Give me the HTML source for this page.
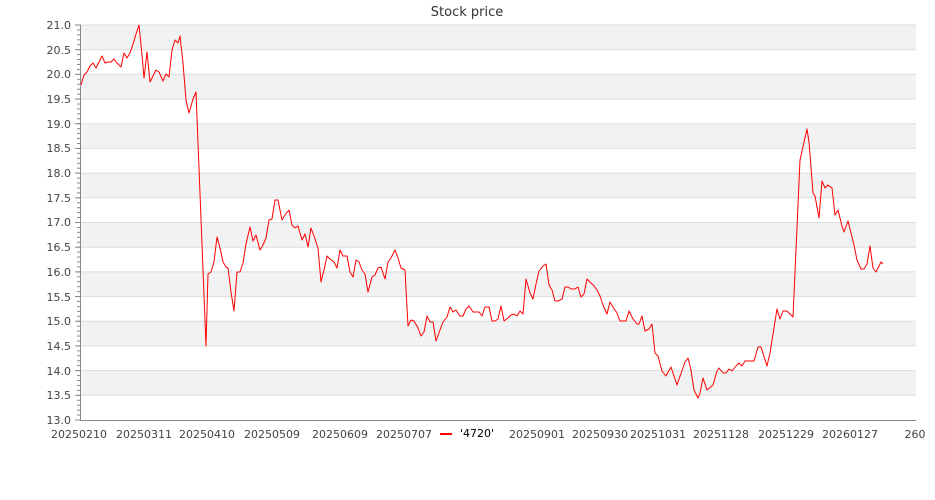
<!DOCTYPE html>
<html><head><meta charset="utf-8"><style>
body{margin:0;background:#fff;}
svg{display:block;font-family:"DejaVu Sans","Liberation Sans",sans-serif;}
</style></head><body>
<svg width="935" height="500" xmlns="http://www.w3.org/2000/svg">
<defs>
<pattern id="minor" patternUnits="userSpaceOnUse" x="0" y="24.5" width="10" height="4.9375"><rect x="0" y="0" width="10" height="1" fill="#888"/></pattern>
<pattern id="major" patternUnits="userSpaceOnUse" x="0" y="24.5" width="10" height="24.6875"><rect x="0" y="0" width="10" height="1" fill="#888"/></pattern>
</defs>
<text x="467" y="16" text-anchor="middle" font-size="13" fill="#333">Stock price</text>
<g fill="#f2f2f2">
<rect x="81" y="25" width="835" height="24.7"/>
<rect x="81" y="74.4" width="835" height="24.7"/>
<rect x="81" y="123.8" width="835" height="24.7"/>
<rect x="81" y="173.1" width="835" height="24.7"/>
<rect x="81" y="222.5" width="835" height="24.7"/>
<rect x="81" y="271.9" width="835" height="24.7"/>
<rect x="81" y="321.3" width="835" height="24.7"/>
<rect x="81" y="370.6" width="835" height="24.7"/>
</g>
<g stroke="#dddddd" stroke-width="1">
<line x1="81" x2="916" y1="25" y2="25"/><line x1="81" x2="916" y1="49.7" y2="49.7"/><line x1="81" x2="916" y1="74.4" y2="74.4"/><line x1="81" x2="916" y1="99.1" y2="99.1"/><line x1="81" x2="916" y1="123.8" y2="123.8"/><line x1="81" x2="916" y1="148.4" y2="148.4"/><line x1="81" x2="916" y1="173.1" y2="173.1"/><line x1="81" x2="916" y1="197.8" y2="197.8"/><line x1="81" x2="916" y1="222.5" y2="222.5"/><line x1="81" x2="916" y1="247.2" y2="247.2"/><line x1="81" x2="916" y1="271.9" y2="271.9"/><line x1="81" x2="916" y1="296.6" y2="296.6"/><line x1="81" x2="916" y1="321.3" y2="321.3"/><line x1="81" x2="916" y1="346" y2="346"/><line x1="81" x2="916" y1="370.6" y2="370.6"/><line x1="81" x2="916" y1="395.3" y2="395.3"/>
</g>
<rect x="77" y="24.5" width="4" height="396.5" fill="url(#minor)"/>
<rect x="75" y="24.5" width="6" height="396.5" fill="url(#major)"/>
<g stroke="#888" stroke-width="1">
<line x1="80.5" x2="80.5" y1="25" y2="420"/>
<line x1="80" x2="916" y1="420.5" y2="420.5"/>
</g>
<g font-size="11" fill="#444" text-anchor="end">
<text x="71" y="29">21.0</text><text x="71" y="54">20.5</text><text x="71" y="78">20.0</text><text x="71" y="103">19.5</text><text x="71" y="128">19.0</text><text x="71" y="152">18.5</text><text x="71" y="177">18.0</text><text x="71" y="202">17.5</text><text x="71" y="226">17.0</text><text x="71" y="251">16.5</text><text x="71" y="276">16.0</text><text x="71" y="301">15.5</text><text x="71" y="325">15.0</text><text x="71" y="350">14.5</text><text x="71" y="375">14.0</text><text x="71" y="399">13.5</text><text x="71" y="424">13.0</text>
</g>
<g font-size="11" fill="#444" text-anchor="middle">
<text x="79" y="438">20250210</text><text x="144" y="438">20250311</text><text x="207" y="438">20250410</text><text x="272" y="438">20250509</text><text x="340" y="438">20250609</text><text x="404" y="438">20250707</text><text x="537" y="438">20250901</text><text x="600" y="438">20250930</text><text x="658" y="438">20251031</text><text x="721" y="438">20251128</text><text x="786" y="438">20251229</text><text x="850" y="438">20260127</text><text x="915" y="438">260</text>
</g>
<line x1="440" x2="452" y1="434" y2="434" stroke="#f00" stroke-width="2"/>
<text x="460" y="437" font-size="11" fill="#000">'4720'</text>
<polyline fill="none" stroke="#ff0000" stroke-width="1" stroke-linejoin="round" points="81,85 84,75 87,72 90,66 93,63 96,68 99,62 102,56 105,63 108,62 111,62 114,59 117,63 121,67 124,53 127,58 130,53 133,44 136,34 139,25 142,55 144,78 147,52 150,82 153,76 156,70 159,72 163,81 166,74 169,77 172,50 175,40 178,43 180,36 183,63 186,100 189,113 193,99 196,92 206,346 208,274 211,272 214,262 217,237 220,248 223,262 226,267 228,268 231,292 234,311 237,272 240,272 243,263 246,244 250,227 253,241 256,235 260,250 263,245 266,238 269,220 272,219 275,200 278,200 282,220 285,215 289,210 292,225 295,228 298,226 302,240 305,234 308,247 311,228 314,236 318,248 321,282 324,270 327,256 330,259 334,262 337,268 340,250 343,256 347,256 350,272 353,277 356,260 359,262 362,270 365,274 368,292 372,277 375,275 378,268 381,267 385,279 388,262 391,258 395,250 398,258 401,268 405,270 408,326 411,320 414,321 418,328 421,336 424,332 427,316 430,322 433,322 436,341 440,330 443,322 447,317 450,307 453,312 456,310 460,316 463,316 466,309 469,306 473,312 476,312 479,312 482,316 485,307 489,307 492,321 495,321 498,319 501,306 504,321 508,318 511,315 514,314 517,316 520,311 523,314 526,279 530,293 533,299 536,284 539,271 543,266 546,264 549,285 552,290 555,301 558,301 562,299 565,287 568,287 571,289 575,289 578,287 581,297 584,294 587,279 591,283 594,286 597,290 600,296 603,305 607,314 610,302 613,307 617,313 620,321 626,321 629,311 633,319 637,324 639,324 642,316 645,331 649,329 652,324 655,353 658,356 662,371 666,376 671,367 677,385 685,362 688,358 691,370 694,390 698,398 700,393 703,378 707,390 713,385 717,371 719,368 723,373 726,373 729,369 732,371 736,366 739,363 742,366 745,361 754,361 758,347 761,347 767,366 770,353 777,309 780,319 783,311 787,311 793,317 800,160 807,129 809,142 813,193 815,196 819,218 822,181 825,188 828,185 832,188 835,215 838,210 842,226 844,232 848,221 851,233 854,245 857,260 861,269 864,269 867,264 870,246 873,268 876,272 881,262 883,264"/>
</svg>
</body></html>
